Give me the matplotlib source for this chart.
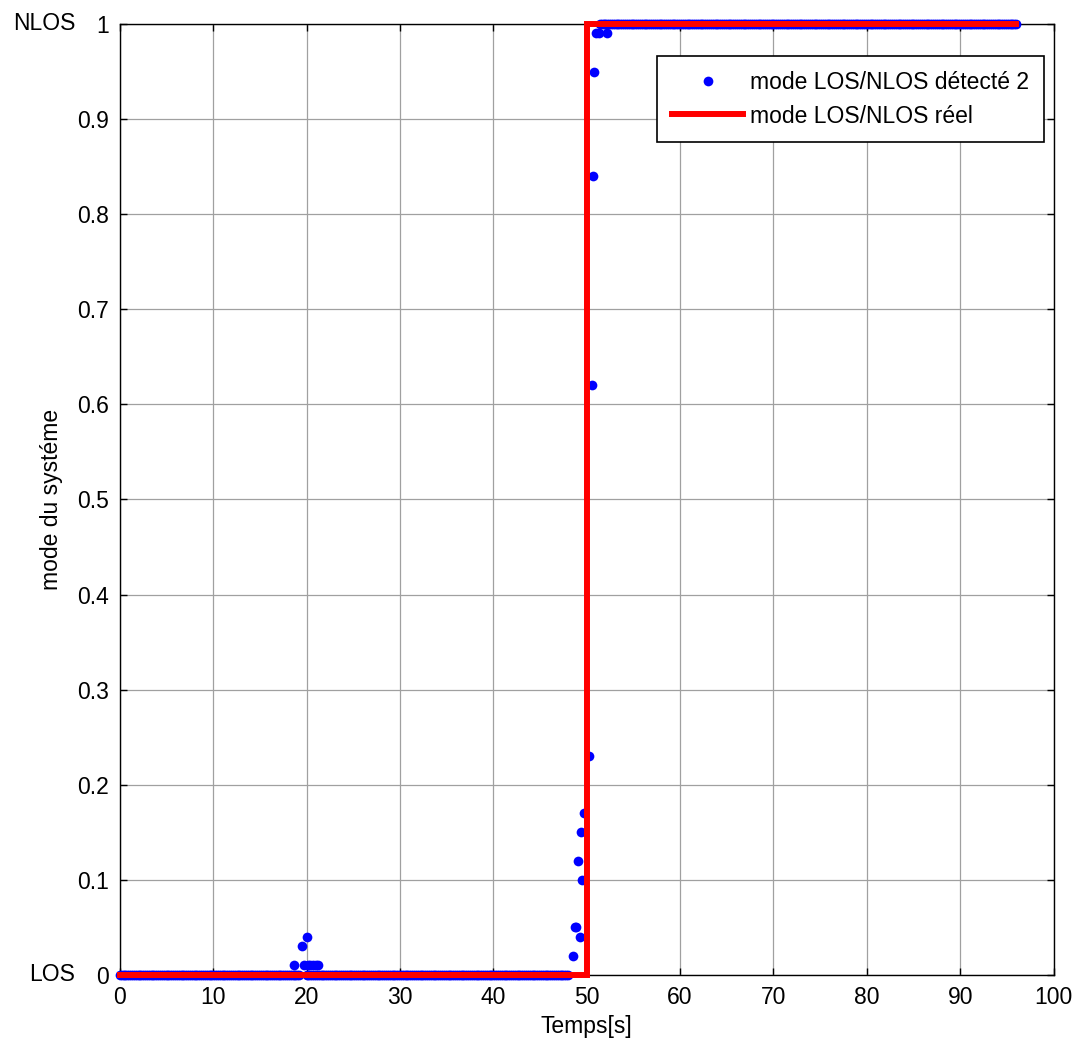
import matplotlib
matplotlib.use("Agg")
import matplotlib.pyplot as plt
import numpy as np

plt.rcParams["font.family"] = ["Liberation Sans", "DejaVu Sans"]

# detected mode: sampled time grid, flat parts + transient points
T_STEP = 0.2
LOS_END = 48.1
NLOS_START = 51.4
T_END = 96.0
GAP = (19.3, 19.8)  # no zero-level samples here

spike_t = [18.7, 19.5, 19.7, 20.0, 20.1, 20.4, 20.7, 21.0, 21.2]
spike_v = [0.01, 0.03, 0.01, 0.04, 0.01, 0.01, 0.01, 0.01, 0.01]

trans_t = [48.5, 48.75, 48.9, 49.07, 49.25, 49.4, 49.5, 49.7, 50.2, 50.6, 50.7, 50.8, 51.0, 51.3, 52.2]
trans_v = [0.02, 0.05, 0.05, 0.12, 0.04, 0.15, 0.10, 0.17, 0.23, 0.62, 0.84, 0.95, 0.99, 0.99, 0.99]

# real mode
real_t = [0, 50, 50, 96]
real_v = [0, 0, 1, 1]

xticks = [0, 10, 20, 30, 40, 50, 60, 70, 80, 90, 100]
yticks = [0, 0.1, 0.2, 0.3, 0.4, 0.5, 0.6, 0.7, 0.8, 0.9, 1]
ytick_labels = ["0", "0.1", "0.2", "0.3", "0.4", "0.5", "0.6", "0.7", "0.8", "0.9", "1"]

FS = 16.5
BLUE = "#0000FF"
RED = "#FF0000"

los_t = np.arange(0, LOS_END + 1e-9, T_STEP)
los_t = los_t[(los_t < GAP[0]) | (los_t > GAP[1])]
nlos_t = np.arange(NLOS_START, T_END + 1e-9, T_STEP)

det_t = np.concatenate([los_t, spike_t, trans_t, nlos_t])
det_v = np.concatenate([np.zeros(len(los_t)), spike_v, trans_v, np.ones(len(nlos_t))])
order = np.argsort(det_t)
det_t, det_v = det_t[order], det_v[order]

fig = plt.figure(figsize=(10.8, 10.42), dpi=100)
fig.patch.set_facecolor("white")
ax = fig.add_axes([0.111, 0.0643, 0.8645, 0.9127])

ax.grid(True, color="#a0a0a0", linewidth=0.9)
ax.set_axisbelow(True)

ax.plot(det_t, det_v, linestyle="none", marker="o", markersize=7, color=BLUE,
        markeredgewidth=0, label="mode LOS/NLOS détecté 2", clip_on=False, zorder=3)
ax.plot(real_t, real_v, color=RED, linewidth=4.3, label="mode LOS/NLOS réel",
        clip_on=False, zorder=4, solid_joinstyle="miter")

ax.set_xlim(0, 100)
ax.set_ylim(0, 1)
ax.set_xticks(xticks)
ax.set_yticks(yticks)
ax.set_yticklabels(ytick_labels)
ax.tick_params(direction="in", top=True, right=True, length=5, width=1,
               labelsize=FS, colors="black", pad=8)
for spine in ax.spines.values():
    spine.set_color("black")
    spine.set_linewidth(1)

ax.set_xlabel("Temps[s]", fontsize=FS, labelpad=4)
ax.set_ylabel("mode du systéme", fontsize=FS, labelpad=10)

ax.text(-0.048, 1.0, "NLOS", transform=ax.transAxes, ha="right", va="center", fontsize=FS)
ax.text(-0.048, 0.0, "LOS", transform=ax.transAxes, ha="right", va="center", fontsize=FS)

leg = ax.legend(loc="upper right", bbox_to_anchor=(0.99, 0.966), borderaxespad=0,
                fontsize=FS, numpoints=1, handlelength=3.1, handletextpad=0.3,
                borderpad=0.65, labelspacing=0.45, fancybox=False, framealpha=1,
                edgecolor="black")
leg.get_frame().set_linewidth(1.2)

fig.savefig("out.png", dpi=100)
